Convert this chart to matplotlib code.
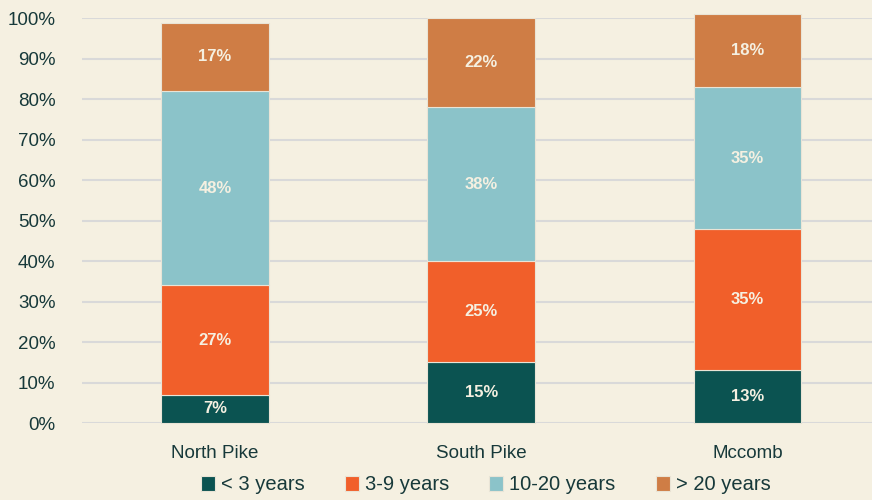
import matplotlib.pyplot as plt
from matplotlib import font_manager
import numpy as np

# data
sites = ['North Pike', 'South Pike', 'Mccomb']
groups = ['< 3 years', '3-9 years', '10-20 years', '> 20 years']
under3 = [7, 15, 13]
y3to9 = [27, 25, 35]
y10to20 = [48, 38, 35]
over20 = [17, 22, 18]
colors = ['#0b5351', '#f15f2a', '#8bc3c9', '#cf7d45']

names = {f.name for f in font_manager.fontManager.ttflist}
fam = 'Liberation Sans Narrow' if 'Liberation Sans Narrow' in names else 'Liberation Sans'
plt.rcParams['font.family'] = [fam, 'DejaVu Sans']

bg = '#f5f0e1'
txt = '#17393a'

fig = plt.figure(figsize=(8.72, 5), dpi=100, facecolor=bg)
ax = fig.add_axes([0.094, 0.154, 0.906, 0.809], facecolor=bg)

x = np.arange(len(sites))
bottom = np.zeros(len(sites))
for vals, c, name in zip([under3, y3to9, y10to20, over20], colors, groups):
    vals = np.array(vals)
    ax.bar(x, vals, 0.405, bottom=bottom, color=c, edgecolor='#e9e4d6',
           linewidth=0.8, label=name, zorder=3, clip_on=False)
    for xi, b, v in zip(x, bottom, vals):
        ax.text(xi, b + v / 2, f'{v}%', ha='center', va='center',
                color='#f5f0e1', fontsize=12, fontweight='bold', zorder=4)
    bottom += vals

ax.set_ylim(0, 100)
ax.set_xlim(-0.5, 2.468)
ax.set_yticks(range(0, 101, 10))
ax.set_yticklabels([f'{t}%' for t in range(0, 101, 10)], fontsize=13.5, color=txt)
ax.set_xticks(x)
ax.set_xticklabels(sites, fontsize=13.5, color=txt)
ax.tick_params(length=0)
ax.tick_params(axis='y', pad=19)
ax.tick_params(axis='x', pad=16)
ax.grid(axis='y', color='#d9d9d9', linewidth=1.5, zorder=0)
for s in ax.spines.values():
    s.set_visible(False)

leg = fig.legend(loc='center', bbox_to_anchor=(0.557, 0.03), ncol=4,
                 frameon=False, fontsize=14.5, handlelength=0.7, handleheight=0.7,
                 handletextpad=0.3, columnspacing=2.0)
for t in leg.get_texts():
    t.set_color(txt)

fig.savefig('out.png', dpi=100, facecolor=bg)
